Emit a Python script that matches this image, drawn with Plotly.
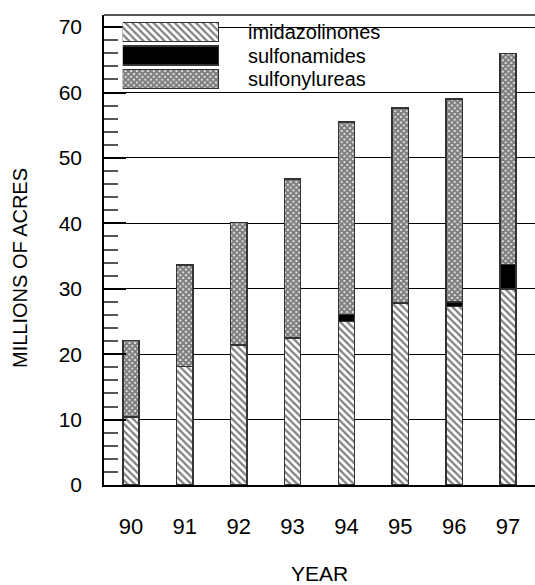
import plotly.graph_objects as go

years = ["90", "91", "92", "93", "94", "95", "96", "97"]
imidazolinones = [10.4, 18.1, 21.4, 22.5, 25.0, 27.8, 27.3, 30.0]
sulfonamides = [0.0, 0.0, 0.0, 0.0, 1.1, 0.0, 0.7, 3.7]
sulfonylureas = [11.7, 15.5, 18.7, 24.3, 29.4, 29.8, 31.0, 32.3]

series_names = ["imidazolinones", "sulfonamides", "sulfonylureas"]
y_ticks = [0, 10, 20, 30, 40, 50, 60, 70]

FONT = "Liberation Sans, Arial, Helvetica, sans-serif"
OUTLINE = dict(color="#333333", width=1.5)

styles = {
    "imidazolinones": dict(color="white", line=OUTLINE,
                           pattern=dict(shape="\\", fgcolor="black", bgcolor="white", size=5, solidity=0.45)),
    "sulfonamides": dict(color="black", line=OUTLINE),
    "sulfonylureas": dict(color="white", line=OUTLINE,
                          pattern=dict(shape="x", fgcolor="black", bgcolor="white", size=4, solidity=0.8)),
}

fig = go.Figure()
for name, vals in zip(series_names, [imidazolinones, sulfonamides, sulfonylureas]):
    fig.add_trace(go.Bar(x=years, y=vals, name=name, marker=styles[name],
                         width=0.3, showlegend=False, xaxis="x", yaxis="y"))

# custom legend drawn with wide swatches on an auxiliary axis pair
for name in series_names:
    fig.add_trace(go.Bar(y=[name], x=[1], orientation="h", marker=styles[name],
                         width=0.8, showlegend=False, xaxis="x2", yaxis="y2",
                         hoverinfo="skip"))

plot_left, plot_right, top_px, bottom_px = 104, 535, 15, 485

fig.update_layout(
    width=535, height=585,
    margin=dict(l=104, r=0, t=15, b=100),
    paper_bgcolor="white", plot_bgcolor="white",
    barmode="stack",
    font=dict(family=FONT, size=20, color="black"),
    xaxis=dict(domain=[0, 1], range=[-0.5, 7.5], showgrid=False, ticks="",
               showline=True, linecolor="black", linewidth=2,
               ticklabelstandoff=21, tickfont=dict(size=22)),
    yaxis=dict(domain=[0, 1], range=[0, 71.85], tickvals=y_ticks,
               showgrid=True, gridcolor="black", gridwidth=1,
               zeroline=False, showline=True, linecolor="black", linewidth=1.5,
               ticks="inside", ticklen=22, tickwidth=2, tickcolor="black",
               ticklabelstandoff=16, tickfont=dict(size=21),
               minor=dict(dtick=2, ticks="inside", ticklen=14, tickwidth=1.5,
                          tickcolor="#555555", showgrid=False)),
    xaxis2=dict(domain=[(122.7 - plot_left) / (plot_right - plot_left),
                        (219 - plot_left) / (plot_right - plot_left)],
                range=[0, 1], anchor="y2", visible=False, fixedrange=True),
    yaxis2=dict(domain=[(bottom_px - 90.75) / (bottom_px - top_px),
                        (bottom_px - 20.25) / (bottom_px - top_px)],
                range=[2.5, -0.5], anchor="x2", visible=False, type="category",
                fixedrange=True),
    shapes=[dict(type="line", xref="paper", yref="paper", x0=0, x1=1, y0=1, y1=1,
                 line=dict(color="#555555", width=2))],
    annotations=[
        dict(text="YEAR", xref="paper", yref="paper", x=0.5,
             y=(bottom_px - 573) / (bottom_px - top_px), xanchor="center", yanchor="middle",
             showarrow=False, font=dict(size=21)),
        dict(text="MILLIONS OF ACRES", xref="paper", yref="paper",
             x=(20 - plot_left) / (plot_right - plot_left),
             y=(bottom_px - 268) / (bottom_px - top_px), xanchor="center", yanchor="middle",
             textangle=-90, showarrow=False, font=dict(size=20)),
    ] + [
        dict(text=name, xref="paper", yref="paper",
             x=(246 - plot_left) / (plot_right - plot_left),
             y=(bottom_px - cy) / (bottom_px - top_px), xanchor="left", yanchor="middle",
             showarrow=False, font=dict(size=20))
        for name, cy in zip(series_names, [32, 55.5, 79])
    ],
)

fig.write_html("out.html", config={"displayModeBar": False},
               post_script="document.body.style.margin='0';")
